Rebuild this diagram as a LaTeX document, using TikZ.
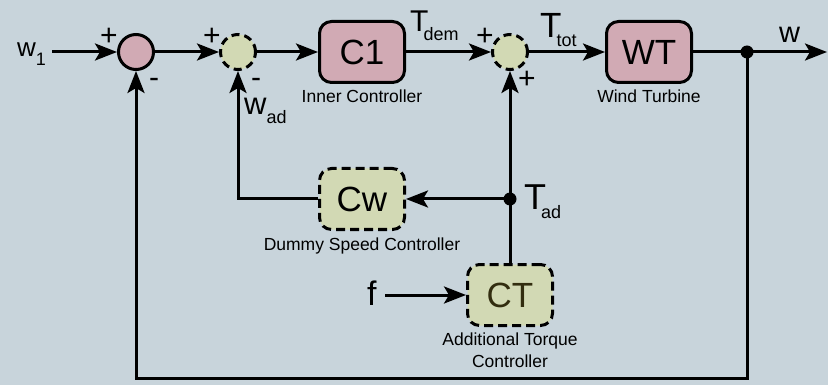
\documentclass[tikz,border=0pt]{standalone}
\usepackage{fontspec}
\setmainfont{Liberation Sans}
\usepackage{tikz}
\usetikzlibrary{arrows.meta,positioning}
\definecolor{bgblue}{RGB}{200,212,219}
\definecolor{blkpink}{RGB}{209,170,180}
\definecolor{blkgreen}{RGB}{210,217,180}
\definecolor{ctdark}{RGB}{50,45,15}
\newcommand{\fsz}[1]{\fontsize{#1}{#1}\selectfont}
\newcommand{\sig}[3][0pt]{#2\kern#1\raisebox{-9pt}{\fsz{18}#3}}

\begin{document}
\begin{tikzpicture}[x=1pt, y=-1pt,
  every node/.style={font=\fsz{17.5}},
  sumnode/.style={circle, draw, line width=3pt, minimum size=35pt, inner sep=0pt},
  dsum/.style={sumnode, fill=blkgreen, dash pattern=on 8pt off 5pt},
  blk/.style={draw, line width=3pt, rounded corners=12pt, minimum width=85pt,
              minimum height=61pt, inner sep=0pt, font=\fsz{35}},
  dbox/.style={blk, fill=blkgreen, dash pattern=on 9pt off 5pt},
  capt/.style={inner sep=0pt, align=center, font=\fontsize{17.5}{22}\selectfont},
  lbl/.style={inner sep=0pt, anchor=base west, font=\fsz{#1}},
  sgn/.style={inner sep=0pt, font=\fsz{30}},
  arr/.style={-{Stealth[length=22pt, width=17pt, inset=5pt]}, line width=3pt}
]
\fill[bgblue] (0,0) rectangle (828,385);
\useasboundingbox (0,0) rectangle (828,385);

% forward path
\node[sumnode, fill=blkpink] (s1) at (136,52) {};
\node[dsum, right=64pt of s1] (s2) {};
\node[blk, fill=blkpink, right=61pt of s2] (c1) {C1};
\node[dsum, right=85pt of c1] (s3) {};
\node[blk, fill=blkpink, right=76pt of s3] (wt) {WT};
\coordinate[right=54pt of wt] (jw);
\coordinate[right=80pt of jw] (wout);
\coordinate[left=65pt of s1] (win);

% additional loop
\node[dbox, below=83pt of c1] (cw) {Cw};
\node[dbox, text=ctdark, below=192pt of s3] (ct) {CT};
\coordinate (jt) at (s3 |- cw);
\coordinate[left=81pt of ct] (fin);

% captions
\node[capt, below=6pt of c1] (c1cap) {Inner Controller};
\node[capt, below=6pt of wt] (wtcap) {Wind Turbine};
\node[capt, below=7pt of cw] (cwcap) {Dummy Speed Controller};
\node[capt, below=6pt of ct] (ctcap) {Additional Torque\\Controller};

% signals
\node[lbl=26] (lw1) at (17,57) {\sig{w}{1}};
\node[lbl=30] (ltdem) at (410,32) {\sig[-5pt]{T}{dem}};
\node[lbl=35] (lttot) at (540,38) {\sig[-5pt]{T}{tot}};
\node[lbl=29] (lw) at (779,43) {w};
\node[lbl=31] (lwad) at (244,115) {\sig{w}{ad}};
\node[lbl=36] (ltad) at (524,210) {\sig[-5pt]{T}{ad}};
\node[lbl=34] (lf) at (367,305) {f};

% signs
\node[sgn] at ([shift={(-27,-15)}]s1) {+};
\node[sgn] at ([shift={(18,31)}]s1) {-};
\node[sgn] at ([shift={(-26,-15)}]s2) {+};
\node[sgn] at ([shift={(18,31)}]s2) {-};
\node[sgn] at ([shift={(-25,-15)}]s3) {+};
\node[sgn] at ([shift={(17,28)}]s3) {+};

\draw[arr] (win) -- (s1);
\draw[arr] (s1) -- (s2);
\draw[arr] (s2) -- (c1);
\draw[arr] (c1) -- (s3);
\draw[arr] (s3) -- (wt);
\draw[arr] (wt) -- (wout);
\fill (jw) circle (6.5pt);
\draw[arr] (jw) -- ++(0,326) -| (s1);
\draw[arr] (ct) -- (s3);
\fill (jt) circle (6.5pt);
\draw[arr] (jt) -- (cw);
\draw[arr] (cw) -| (s2);
\draw[arr] (fin) -- (ct);
\end{tikzpicture}
\end{document}
